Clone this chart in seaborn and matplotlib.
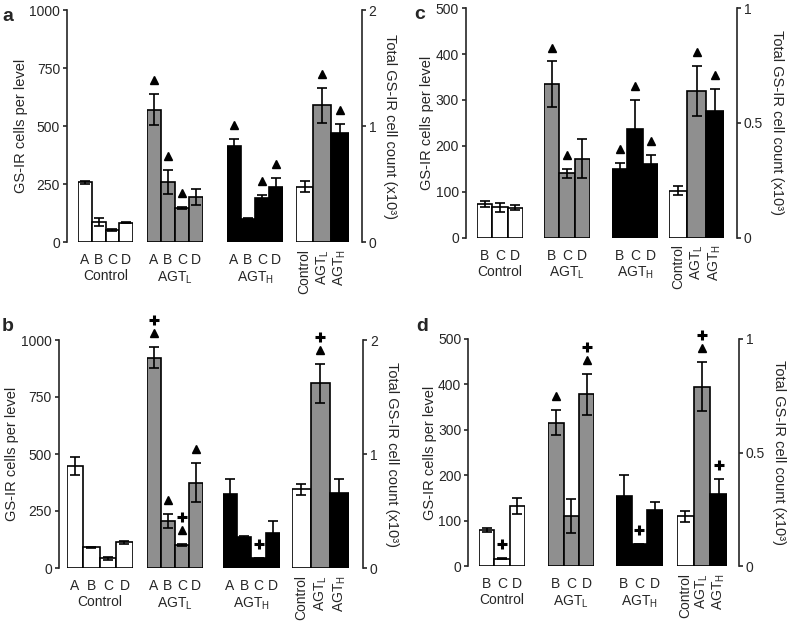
import numpy as np
import pandas as pd
import seaborn as sns
import matplotlib.pyplot as plt
from matplotlib.transforms import offset_copy

# GS-IR cell counts per level (mean +/- SEM) and totals, panels a-d

sns.set_style("ticks")
plt.rcParams['font.family'] = ['Liberation Sans', 'DejaVu Sans']
plt.rcParams['mathtext.default'] = 'regular'
plt.rcParams['axes.linewidth'] = 1.2
plt.rcParams['ytick.major.width'] = 1.2
plt.rcParams['ytick.major.size'] = 3

W, H = 787, 622

groups = ['Control', 'AGT$_L$', 'AGT$_H$']
colors = ['white', '#8f8f8f', 'black']

# ---- panel a ----
a_levels = ['A', 'B', 'C', 'D']
a_means = [[258, 86, 52, 83], [571, 259, 147, 194], [414, 100, 191, 235]]
a_errs = [[7, 17, 5, 3], [66, 53, 5, 33], [32, 2, 13, 42]]
a_marks = [['', '', '', ''], ['t', 't', 't', ''], ['t', '', 't', 't']]
a_tot = [0.477, 1.18, 0.94]
a_tot_err = [0.05, 0.15, 0.075]
a_tot_marks = ['', 't', 't']

# ---- panel b ----
b_levels = ['A', 'B', 'C', 'D']
b_means = [[447, 90, 42, 112], [922, 206, 102, 375], [325, 136, 43, 152]]
b_errs = [[40, 3, 5, 6], [46, 30, 4, 87], [65, 5, 2, 52]]
b_marks = [['', '', '', ''], ['+t', 't', '+t', 't'], ['', '', '+', '']]
b_tot = [0.69, 1.62, 0.655]
b_tot_err = [0.05, 0.17, 0.13]
b_tot_marks = ['', '+t', '']

# ---- panel c ----
c_levels = ['B', 'C', 'D']
c_means = [[73, 66, 65], [334, 140, 172], [149, 236, 161]]
c_errs = [[6, 10, 5], [50, 10, 43], [13, 64, 20]]
c_marks = [['', '', ''], ['t', 't', ''], ['t', 't', 't']]
c_tot = [0.204, 0.64, 0.55]
c_tot_err = [0.02, 0.11, 0.097]
c_tot_marks = ['', 't', 't']

# ---- panel d ----
d_levels = ['B', 'C', 'D']
d_means = [[79, 16, 132], [316, 110, 378], [154, 48, 123]]
d_errs = [[5, 1, 17], [27, 37, 45], [47, 1, 18]]
d_marks = [['', '+', ''], ['t', '', '+t'], ['', '+', '']]
d_tot = [0.22, 0.79, 0.315]
d_tot_err = [0.024, 0.107, 0.067]
d_tot_marks = ['', '+t', '+']

# layout in pixels (x ranges of the bar groups, y of axis top / zero)
layouts = {
    'a': dict(y=(10, 242), groups=[(78, 133), (147, 203), (226.7, 283.3)],
              tot=(295.7, 349), loff=11, roff=12.7, letter=(2, 8)),
    'b': dict(y=(340, 568), groups=[(66.7, 132.7), (146.7, 203.3), (222.7, 280)],
              tot=(291.7, 349), loff=8, roff=14, letter=(2, 318)),
    'c': dict(y=(8.3, 237.5), groups=[(477, 523), (544, 590), (612, 658.3)],
              tot=(669, 724), loff=11, roff=12.7, letter=(414, 6)),
    'd': dict(y=(339, 566), groups=[(479, 525), (548.3, 594.3), (616, 662.7)],
              tot=(676.7, 727.3), loff=10.7, roff=11.7, letter=(416, 318)),
}

fig = plt.figure(figsize=(W / 100, H / 100), dpi=100)


def px_rect(x0, x1, ytop, ybot):
    return [x0 / W, 1 - ybot / H, (x1 - x0) / W, (ybot - ytop) / H]


def add_err(ax, errs, marks):
    first = offset_copy(ax.transData, fig=fig, y=10, units='points')
    second = offset_copy(ax.transData, fig=fig, y=19.5, units='points')
    for p, e, m in zip(ax.patches, errs, marks):
        x = p.get_x() + p.get_width() / 2
        h = p.get_height()
        ax.errorbar(x, h, yerr=e, color='black', lw=1.2, capsize=3.5,
                    capthick=1.2, zorder=3)
        top = h + e
        if 't' in m:
            ax.plot(x, top, marker='^', ms=6, color='black', transform=first,
                    clip_on=False)
            if '+' in m:
                ax.plot(x, top, marker='+', ms=7, mew=2.2, color='black',
                        transform=second, clip_on=False)
        elif '+' in m:
            ax.plot(x, top, marker='+', ms=7, mew=2.2, color='black',
                    transform=first, clip_on=False)


def draw_panel(key, levels, means, errs, marks, tot, tot_err, tot_marks,
               ymax, yticks, rmax, rticks, rlabels):
    lay = layouts[key]
    ytop, ybot = lay['y']
    for i, (x0, x1) in enumerate(lay['groups']):
        ax = fig.add_axes(px_rect(x0, x1, ytop, ybot))
        df = pd.DataFrame({'level': levels, 'n': means[i]})
        sns.barplot(data=df, x='level', y='n', color=colors[i], saturation=1,
                    edgecolor='black', linewidth=1.2, width=1, errorbar=None,
                    ax=ax)
        add_err(ax, errs[i], marks[i])
        ax.set_xlim(-0.5, len(levels) - 0.5)
        ax.set_ylim(0, ymax)
        ax.set_facecolor('none')
        for s in ['top', 'right', 'bottom']:
            ax.spines[s].set_visible(False)
        ax.tick_params(axis='x', length=0, pad=8, labelsize=10)
        ax.set_xlabel(groups[i], fontsize=10, labelpad=1.5)
        if i == 0:
            ax.spines['left'].set_position(('outward', lay['loff'] * 0.72))
            ax.set_yticks(yticks)
            ax.tick_params(axis='y', labelsize=10, pad=2)
            ax.set_ylabel('GS-IR cells per level', fontsize=10.5, labelpad=1)
        else:
            ax.spines['left'].set_visible(False)
            ax.set_yticks([])
            ax.set_ylabel('')

    axt = fig.add_axes(px_rect(lay['tot'][0], lay['tot'][1], ytop, ybot))
    dft = pd.DataFrame({'group': groups, 'total': tot})
    sns.barplot(data=dft, x='group', y='total', hue='group', palette=colors,
                saturation=1, legend=False, edgecolor='black', linewidth=1.2,
                width=1, errorbar=None, ax=axt)
    add_err(axt, tot_err, tot_marks)
    axt.set_xlim(-0.5, 2.5)
    axt.set_ylim(0, rmax)
    axt.set_facecolor('none')
    for s in ['top', 'left', 'bottom']:
        axt.spines[s].set_visible(False)
    axt.spines['right'].set_position(('outward', lay['roff'] * 0.72))
    axt.yaxis.tick_right()
    axt.yaxis.set_label_position('right')
    axt.set_yticks(rticks, rlabels)
    axt.tick_params(axis='y', labelsize=10, pad=2)
    axt.tick_params(axis='x', length=0, pad=5, labelsize=10, labelrotation=90)
    axt.set_xlabel('')
    axt.set_ylabel('Total GS-IR cell count (x10³)', fontsize=10.5, rotation=270,
                   va='bottom', labelpad=5)

    lx, ly = lay['letter']
    fig.text(lx / W, 1 - ly / H, key, fontsize=14, fontweight='bold', va='top')


draw_panel('a', a_levels, a_means, a_errs, a_marks, a_tot, a_tot_err, a_tot_marks,
           1000, [0, 250, 500, 750, 1000], 2, [0, 1, 2], ['0', '1', '2'])
draw_panel('b', b_levels, b_means, b_errs, b_marks, b_tot, b_tot_err, b_tot_marks,
           1000, [0, 250, 500, 750, 1000], 2, [0, 1, 2], ['0', '1', '2'])
draw_panel('c', c_levels, c_means, c_errs, c_marks, c_tot, c_tot_err, c_tot_marks,
           500, [0, 100, 200, 300, 400, 500], 1, [0, 0.5, 1], ['0', '0.5', '1'])
draw_panel('d', d_levels, d_means, d_errs, d_marks, d_tot, d_tot_err, d_tot_marks,
           500, [0, 100, 200, 300, 400, 500], 1, [0, 0.5, 1], ['0', '0.5', '1'])

fig.savefig('out.png', dpi=100)
